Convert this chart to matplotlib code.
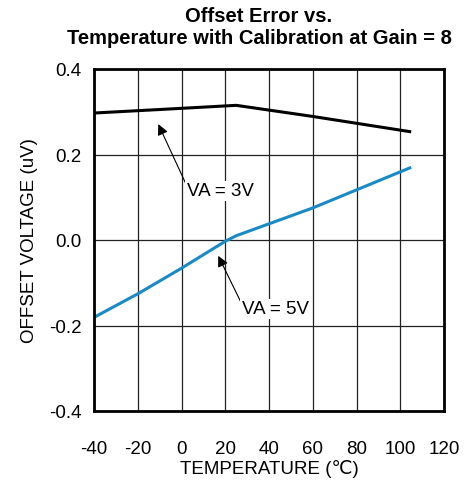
import matplotlib
matplotlib.use("Agg")
import matplotlib.pyplot as plt

plt.rcParams['font.family'] = ['Liberation Sans', 'DejaVu Sans']
plt.rcParams['axes.unicode_minus'] = False

# temperatures (C) and offset voltage (uV)
temp_3v = [-40, 0, 25, 60, 105]
offset_3v = [0.297, 0.308, 0.315, 0.289, 0.253]

temp_5v = [-40, -20, 0, 20, 25, 60, 105]
offset_5v = [-0.181, -0.126, -0.066, -0.003, 0.010, 0.075, 0.170]

xticks = [-40, -20, 0, 20, 40, 60, 80, 100, 120]
yticks = [-0.4, -0.2, 0.0, 0.2, 0.4]

fs = 13.5

fig = plt.figure(figsize=(4.71, 4.85), dpi=100)
ax = fig.add_axes([94/471, 1 - 412/485, 350/471, 342/485])

ax.plot(temp_3v, offset_3v, color='black', lw=2.2, solid_capstyle='butt')
ax.plot(temp_5v, offset_5v, color='#1a8ac6', lw=2.2, solid_capstyle='butt')

ax.set_xlim(-40, 120)
ax.set_ylim(-0.4, 0.4)
ax.set_xticks(xticks)
ax.set_yticks(yticks)
ax.set_yticklabels([f"{v:.1f}" for v in yticks])
ax.tick_params(length=0, labelsize=fs)
ax.tick_params(axis='y', pad=9)
ax.tick_params(axis='x', pad=21)
ax.grid(True, color='#222222', lw=0.9)
for s in ax.spines.values():
    s.set_linewidth(2)

ax.set_xlabel('TEMPERATURE (\u2103)', fontsize=fs, labelpad=1)
ax.set_ylabel('OFFSET VOLTAGE (uV)', fontsize=fs, labelpad=8)

fig.text(259/471, 1 - 27.5/485,
         'Offset Error vs.\nTemperature with Calibration at Gain = 8',
         ha='center', va='center', fontsize=14.5, fontweight='bold', linespacing=1.2)

box = dict(facecolor='white', edgecolor='none', pad=1)
arrow = dict(arrowstyle='-|>', color='black', lw=0.8, mutation_scale=16,
             shrinkA=0, shrinkB=0, relpos=(0, 0.8))
ax.annotate('VA = 3V', xy=(-10.6, 0.271), xytext=(2.4, 0.115),
            fontsize=fs, va='center', ha='left', bbox=box, arrowprops=arrow)
ax.annotate('VA = 5V', xy=(16.8, -0.037), xytext=(27.5, -0.161),
            fontsize=fs, va='center', ha='left', bbox=box, arrowprops=arrow)

fig.savefig('out.png', dpi=100)
